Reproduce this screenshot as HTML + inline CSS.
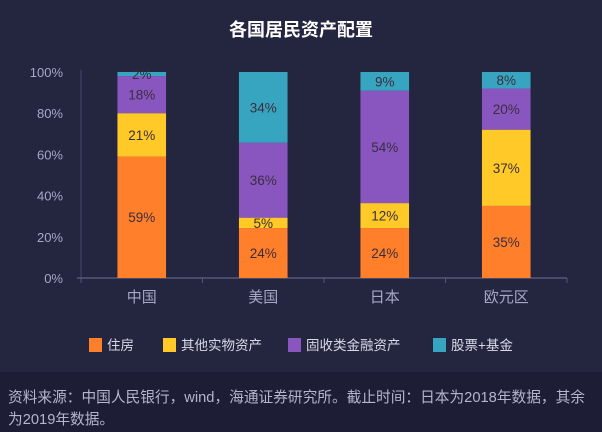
<!DOCTYPE html>
<html><head><meta charset="utf-8"><style>
body{margin:0;width:602px;height:432px;background:#24253f;overflow:hidden;font-family:"Liberation Sans","Noto Sans CJK SC",sans-serif}
</style></head><body>
<svg id="c" width="602" height="432" style="position:absolute;left:0;top:0">
<rect x="0" y="372" width="602" height="60" fill="#1d1e36"/>
<text x="301" y="36" text-anchor="middle" fill="#ffffff" font-size="18" font-weight="bold">各国居民资产配置</text>
<text x="8" y="402" fill="#b4b6cc" font-size="14.7">资料来源：中国人民银行，wind，海通证券研究所。截止时间：日本为2018年数据，其余</text>
<text x="8" y="424" fill="#b4b6cc" font-size="14.7">为2019年数据。</text>
</svg>
<script>
const categories=["中国","美国","日本","欧元区"];
const seriesNames=["住房","其他实物资产","固收类金融资产","股票+基金"];
const housing=[59,24,24,35];
const otherReal=[21,5,12,37];
const fixedIncome=[18,36,54,20];
const equity=[2,34,9,8];
const yTicks=[0,20,40,60,80,100];
const colors=["#ff7f2a","#ffca28","#8956bf","#38a5c0"];
const NS="http://www.w3.org/2000/svg";
const svg=document.getElementById('c');
const X0=81,X1=567,Y0=278,Y1=72;
const band=(X1-X0)/categories.length;
const yS=v=>Y0-(v/100)*(Y0-Y1);
const xC=i=>X0+band*(i+0.5);
function el(t,a,txt){const e=document.createElementNS(NS,t);for(const k in a)e.setAttribute(k,a[k]);if(txt!==undefined)e.textContent=txt;svg.appendChild(e);return e;}
yTicks.forEach(t=>{
 const e=el('text',{x:63,y:yS(t)+5,'text-anchor':'end',fill:'#a6a8c4','font-size':13},t+'%');
 
 
});
const ya=el('line',{x1:X0,y1:Y1-2,x2:X0,y2:Y0,stroke:'#45486b'});


const xa=el('line',{x1:X0-4,y1:Y0,x2:X1,y2:Y0,stroke:'#55587c','stroke-width':1.5});


for(let i=0;i<=categories.length;i++){
 const tk=el('line',{x1:X0+band*i,y1:Y0,x2:X0+band*i,y2:Y0+5,stroke:'#55587c'});
 
 
}
const series=[housing,otherReal,fixedIncome,equity];
const bw=band*0.4;
categories.forEach((c,i)=>{
 const total=series.reduce((s,a)=>s+a[i],0);
 let acc=0;
 series.forEach((s,j)=>{
  const v=s[i];
  const a0=acc/total*100, a1=(acc+v)/total*100;
  const r=el('rect',{x:xC(i)-bw/2,y:yS(a1),width:bw,height:yS(a0)-yS(a1),fill:colors[j]});
  
  
  const t=el('text',{x:xC(i),y:(yS(a0)+yS(a1))/2+5,'text-anchor':'middle',fill:'#3a2d3e','font-size':13.5},v+'%');
  
  
  acc+=v;
 });
 const l=el('text',{x:xC(i),y:Y0+24,'text-anchor':'middle',fill:'#a6a8c4','font-size':15},c);
 
 
});
const lx=[89,163,288,433];
seriesNames.forEach((n,j)=>{
 const r=el('rect',{x:lx[j],y:338,width:13,height:14,fill:colors[j]});
 
 
 const t=el('text',{x:lx[j]+18,y:350,fill:'#d8d9e6','font-size':13.5},n);
 
 
});
</script>
</body></html>
